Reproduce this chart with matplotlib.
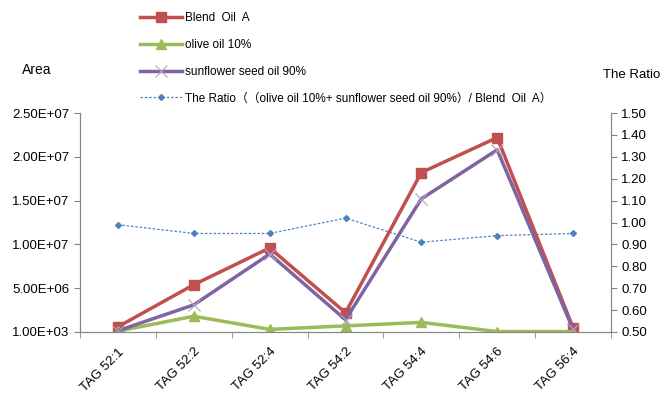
import numpy as np
import matplotlib
matplotlib.use('Agg')
import matplotlib.pyplot as plt
from matplotlib.ticker import FuncFormatter

plt.rcParams['font.family'] = ['Liberation Sans', 'Noto Sans CJK SC', 'DejaVu Sans']

cats = ['TAG 52:1', 'TAG 52:2', 'TAG 52:4', 'TAG 54:2', 'TAG 54:4', 'TAG 54:6', 'TAG 56:4']
blend = [0.6e6, 5.4e6, 9.6e6, 2.2e6, 18.2e6, 22.2e6, 0.5e6]
olive = [0.1e6, 1.8e6, 0.3e6, 0.7e6, 1.1e6, 0.05e6, 0.05e6]
sunflower = [0.15e6, 3.1e6, 8.9e6, 1.4e6, 15.2e6, 20.8e6, 0.3e6]
ratio = [0.99, 0.95, 0.95, 1.02, 0.91, 0.94, 0.95]
left_ticks = [1e3, 5e6, 1e7, 1.5e7, 2e7, 2.5e7]
right_ticks = np.arange(0.5, 1.51, 0.1)

grey = '#868686'
x = np.arange(len(cats))

fig = plt.figure(figsize=(6.67, 4), dpi=100)
ax = fig.add_axes([0.12, 0.17, 0.796, 0.5475])
ax2 = ax.twinx()

l1, = ax.plot(x, blend, color='#C0504D', lw=2.5, marker='s', ms=7, label='Blend  Oil  A')
l2, = ax.plot(x, olive, color='#9BBB59', lw=2.5, marker='^', ms=7, label='olive oil 10%')
l3, = ax.plot(x, sunflower, color='#8064A2', lw=2.5, marker='x', ms=8, mew=0.8,
              markeredgecolor='#B3A2C7', label='sunflower seed oil 90%')
l4, = ax2.plot(x, ratio, color='#4F81BD', lw=0.9, ls=(0, (2, 1.5)), marker='D', ms=3,
               label='The Ratio\uff08\uff08olive oil 10%+ sunflower seed oil 90%\uff09/ Blend  Oil  A\uff09')
ax.set_zorder(2)
ax.patch.set_visible(False)

ax.set_xlim(-0.5, len(cats) - 0.5)
ax.set_ylim(1e3, 2.5e7)
ax.set_yticks(left_ticks)
ax.yaxis.set_major_formatter(FuncFormatter(lambda v, p: '%.2E' % v))
ax2.set_ylim(0.5, 1.5)
ax2.set_yticks(right_ticks)
ax2.set_yticklabels(['%.2f' % v for v in right_ticks])

ax.set_xticks(x)
ax.set_xticklabels(cats, rotation=45, ha='right', rotation_mode='anchor')
ax.set_xticks(np.arange(-0.5, len(cats)), minor=True)
ax.tick_params(axis='x', which='major', length=0, pad=10, labelsize=9.5)
ax.tick_params(axis='x', which='minor', length=4, color=grey)
ax.tick_params(axis='y', length=4, color=grey, labelsize=9.5)
ax2.tick_params(axis='y', length=4, color=grey, labelsize=9.5)

for a in (ax, ax2):
    a.spines['top'].set_visible(False)
    for s in ('left', 'right', 'bottom'):
        a.spines[s].set_color(grey)

fig.text(22 / 667, 1 - 70 / 400, 'Area', fontsize=10, va='center')
fig.text(603 / 667, 1 - 75 / 400, 'The Ratio', fontsize=9.5, va='center')

fig.legend(handles=[l1, l2, l3, l4], loc='upper left', bbox_to_anchor=(132 / 667, 0.99),
           frameon=False, fontsize=8.5, handlelength=3.5, labelspacing=1.25,
           handletextpad=0.3, borderaxespad=0.3)

fig.savefig('out.png', dpi=100)
